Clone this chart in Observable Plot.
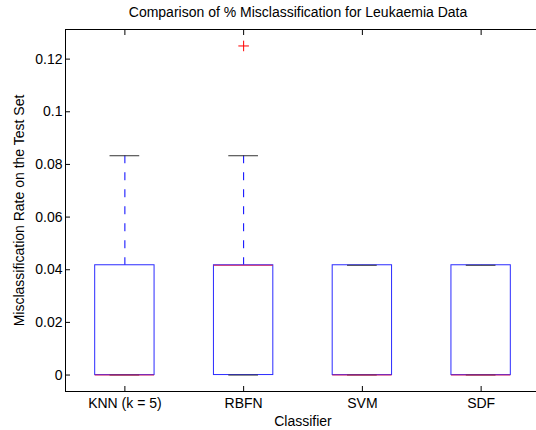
<!DOCTYPE html>
<html>
<head>
<meta charset="utf-8">
<script src="https://cdn.jsdelivr.net/npm/d3@7"></script>
<script src="https://cdn.jsdelivr.net/npm/@observablehq/plot@0.6"></script>
<style>
  html, body { margin: 0; padding: 0; background: #fff; }
  svg { display: block; }
</style>
</head>
<body>
<div id="chart"></div>
<script>
// ---- data ----
const classifiers = ["KNN (k = 5)", "RBFN", "SVM", "SDF"];
const q1 = [0, 0, 0, 0];
const median = [0, 0.0417, 0, 0];
const q3 = [0.0417, 0.0417, 0.0417, 0.0417];
const whiskerLow = [0, 0, 0, 0];
const whiskerHigh = [0.0833, 0.0833, 0.0417, 0.0417];
const outlierClass = ["RBFN"];
const outlierValue = [0.125];
const yTicks = [0, 0.02, 0.04, 0.06, 0.08, 0.1, 0.12];

const titleText = "Comparison of % Misclassification for Leukaemia Data";
const xLabel = "Classifier";
const yLabel = "Misclassification Rate on the Test Set";

// ---- tables ----
const boxes = classifiers.map((c, i) => ({
  pos: i + 1, name: c, q1: q1[i], med: median[i], q3: q3[i],
  lo: whiskerLow[i], hi: whiskerHigh[i]
}));
const outliers = outlierClass.map((c, i) => ({
  pos: classifiers.indexOf(c) + 1, value: outlierValue[i]
}));
const boxHalf = 0.25, capHalf = 0.125;

const font = "'Liberation Sans', Arial, Helvetica, sans-serif";
const fmt = d => String(+d.toFixed(2));

const chart = Plot.plot({
  width: 536,
  height: 430,
  marginLeft: 65,
  marginRight: -4,
  marginTop: 29,
  marginBottom: 39,
  style: { fontFamily: font, fontSize: "14px", color: "#000", background: "#fff" },
  x: { type: "linear", domain: [0.5, 4.5] },
  y: { domain: [-0.00625, 0.13125] },
  marks: [
    // whiskers (dashed)
    Plot.ruleX(boxes, { x: "pos", y1: "hi", y2: "q3", stroke: "#0000ff", strokeDasharray: "8,9" }),
    Plot.ruleX(boxes, { x: "pos", y1: "lo", y2: "q1", stroke: "#0000ff", strokeDasharray: "8,9" }),
    // boxes
    Plot.rect(boxes, { x1: d => d.pos - boxHalf, x2: d => d.pos + boxHalf, y1: "q1", y2: "q3", fill: "none", stroke: "#2a2aff" }),
    // caps
    Plot.ruleY(boxes, { y: "hi", x1: d => d.pos - capHalf, x2: d => d.pos + capHalf, stroke: "#333" }),
    Plot.ruleY(boxes, { y: "lo", x1: d => d.pos - capHalf, x2: d => d.pos + capHalf, stroke: "#333" }),
    // medians
    Plot.ruleY(boxes, { y: "med", x1: d => d.pos - boxHalf, x2: d => d.pos + boxHalf, stroke: "#d02060" }),
    // outliers
    Plot.dot(outliers, { x: "pos", y: "value", symbol: "plus", r: 3.5, stroke: "#ff0000", strokeWidth: 1 }),
    // frame
    Plot.frame({ stroke: "#000" }),
    // inward tick marks
    Plot.axisY({ anchor: "left", ticks: yTicks, tickSize: -5, tickFormat: () => "", label: null }),
    Plot.axisY({ anchor: "right", ticks: yTicks, tickSize: -5, tickFormat: () => "", label: null }),
    Plot.axisX({ anchor: "bottom", ticks: [1, 2, 3, 4], tickSize: -5, tickFormat: () => "", label: null }),
    Plot.axisX({ anchor: "top", ticks: [1, 2, 3, 4], tickSize: -5, tickFormat: () => "", label: null }),
    // tick labels
    Plot.axisY({ anchor: "left", ticks: yTicks, tickSize: 0, tickPadding: 3, tickFormat: fmt, label: null }),
    Plot.axisX({ anchor: "bottom", ticks: [1, 2, 3, 4], tickSize: 0, tickPadding: 7, tickFormat: d => classifiers[d - 1], label: null }),
    // labels and title
    Plot.text([xLabel], { frameAnchor: "bottom", textAnchor: "middle", lineAnchor: "middle", dy: 30, fontSize: 14 }),
    Plot.text([yLabel], { frameAnchor: "left", rotate: -90, textAnchor: "middle", lineAnchor: "middle", dx: -46, fontSize: 14 }),
    Plot.text([titleText], { frameAnchor: "top", textAnchor: "middle", lineAnchor: "middle", dy: -17, dx: -5, fontSize: 14 })
  ]
});
document.getElementById("chart").appendChild(chart);
</script>
</body>
</html>
